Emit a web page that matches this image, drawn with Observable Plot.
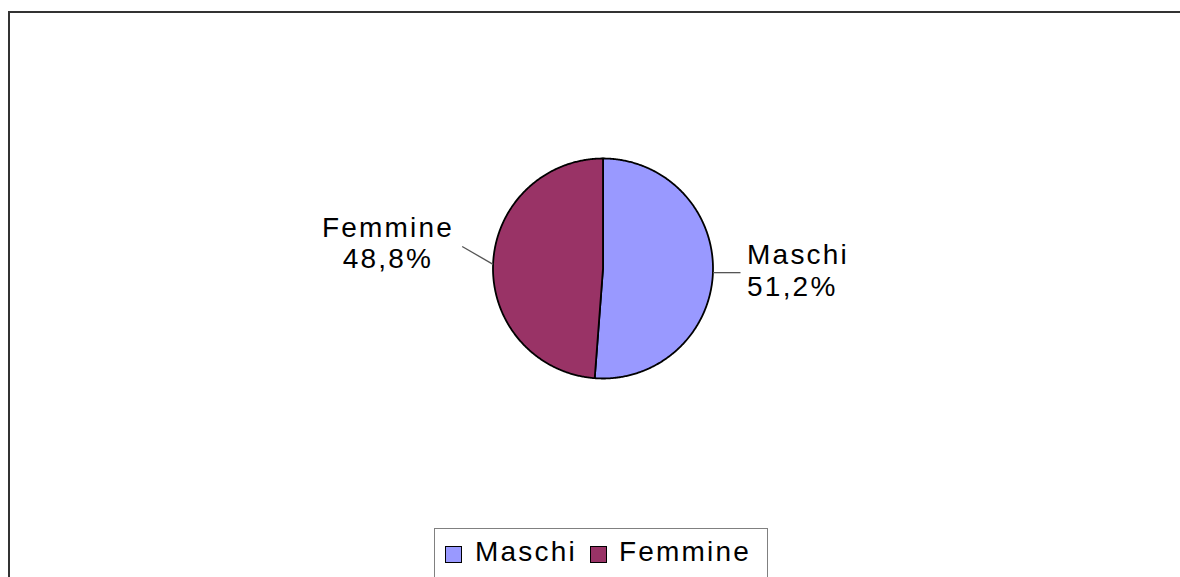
<!DOCTYPE html>
<html>
<head>
<meta charset="utf-8">
<script src="https://cdn.jsdelivr.net/npm/d3@7"></script>
<script src="https://cdn.jsdelivr.net/npm/@observablehq/plot@0.6"></script>
<style>
  html, body { margin: 0; padding: 0; background: #fff; overflow: hidden; width: 1180px; height: 577px; }
  #wrap { position: relative; width: 1180px; height: 577px; overflow: hidden; background: #fff;
          font-family: "Liberation Sans", Arial, sans-serif; }
  #topline { position: absolute; left: 8px; top: 11px; width: 1172px; height: 2px; background: #333; }
  #leftline { position: absolute; left: 8px; top: 11px; width: 2px; height: 566px; background: #333; }
  #chart { position: absolute; left: 0; top: 0; width: 1180px; height: 577px; }
  #chart svg { display: block; }
  #legend { position: absolute; left: 434px; top: 528px; width: 334px; height: 49px;
            border-top: 1px solid #808080; border-left: 1px solid #808080; border-right: 1px solid #808080;
            box-sizing: border-box; background: #fff; }
  .sw { position: absolute; top: 17px; width: 17px; height: 17px; box-sizing: border-box;
        border: 1.8px solid #000; }
  .lt { position: absolute; top: 9px; font-size: 28px; line-height: 28px; letter-spacing: 2.2px; color: #000; white-space: nowrap; }
</style>
</head>
<body>
<div id="wrap">
  <div id="topline"></div>
  <div id="leftline"></div>
  <div id="chart"></div>
  <div id="legend"></div>
</div>
<script>
// ---- data ----
const categories = ["Maschi", "Femmine"];
const shares = [51.2, 48.8];
const sliceColors = ["#9999FF", "#993366"];

// ---- build ----
const data = categories.map((c, i) => ({name: c, value: shares[i], color: sliceColors[i]}));
const arcs = d3.pie().sort(null).value(d => d.value)(data);
const pt = a => ({x: Math.sin(a), y: Math.cos(a)});

const slicePolys = arcs.map(a => {
  const pts = [{x: 0, y: 0}];
  const n = Math.max(2, Math.ceil((a.endAngle - a.startAngle) / (Math.PI / 360)));
  for (let k = 0; k <= n; k++) pts.push(pt(a.startAngle + (a.endAngle - a.startAngle) * k / n));
  return {name: a.data.name, color: a.data.color, pts};
});

// label layout (per side)
const layout = {
  Maschi:  {lead: [1.25, null], text: [1.31, -0.012], anchor: "start"},
  Femmine: {lead: [-1.28, 0.20], text: [-1.955, 0.236], anchor: "middle"}
};
const fmt = v => v.toFixed(1).replace(".", ",") + "%";
const labels = arcs.map(a => {
  const mid = pt((a.startAngle + a.endAngle) / 2);
  const L = layout[a.data.name];
  return {
    name: a.data.name,
    x1: mid.x, y1: mid.y,
    x2: L.lead[0], y2: L.lead[1] == null ? mid.y : L.lead[1],
    tx: L.text[0], ty: L.text[1], anchor: L.anchor,
    label: a.data.name + "\n" + fmt(a.data.value)
  };
});

const marks = [];
for (const s of slicePolys) {
  marks.push(Plot.line(s.pts, {x: "x", y: "y", fill: s.color, stroke: "#000", strokeWidth: 1.8,
                               curve: "linear-closed", strokeLinejoin: "round"}));
}
marks.push(Plot.link(labels, {x1: "x1", y1: "y1", x2: "x2", y2: "y2", stroke: "#555", strokeWidth: 1.3}));
for (const l of labels) {
  marks.push(Plot.text([l], {x: "tx", y: "ty", text: "label", textAnchor: l.anchor,
    fontSize: 28, lineHeight: 1.13, fill: "#000",
    fontFamily: "Liberation Sans, Arial, sans-serif"}));
}

const svg = Plot.plot({
  width: 1180, height: 577,
  marginTop: 0, marginRight: 0, marginBottom: 0, marginLeft: 0,
  x: {domain: [-1, 1], range: [492.5, 712.5], axis: null},
  y: {domain: [-1, 1], range: [378, 158], axis: null},
  style: {background: "transparent", letterSpacing: "2.2px"},
  marks
});
document.getElementById("chart").appendChild(svg);

// legend
const leg = document.getElementById("legend");
const pos = [{sw: 10, tx: 40}, {sw: 155, tx: 184}];
data.forEach((d, i) => {
  const sw = document.createElement("div");
  sw.className = "sw"; sw.style.left = pos[i].sw + "px"; sw.style.background = d.color;
  const t = document.createElement("div");
  t.className = "lt"; t.style.left = pos[i].tx + "px"; t.textContent = d.name;
  leg.appendChild(sw); leg.appendChild(t);
});
</script>
</body>
</html>
